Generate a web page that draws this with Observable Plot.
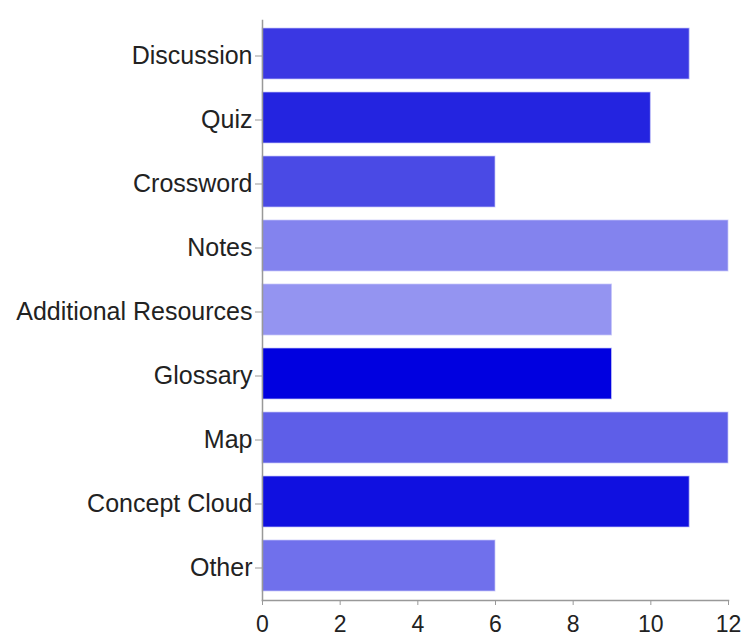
<!DOCTYPE html>
<html>
<head>
<meta charset="utf-8">
<script src="https://cdn.jsdelivr.net/npm/d3@7"></script>
<script src="https://cdn.jsdelivr.net/npm/@observablehq/plot@0.6"></script>
<style>
  html, body { margin: 0; padding: 0; background: #fff; }
  #chart svg { display: block; }
</style>
</head>
<body>
<div id="chart"></div>
<script>
const categories = ["Discussion", "Quiz", "Crossword", "Notes", "Additional Resources", "Glossary", "Map", "Concept Cloud", "Other"];
const counts = [11, 10, 6, 12, 9, 9, 12, 11, 6];
const colors = ["#3a37e3", "#2424e0", "#4a4ae5", "#8383ee", "#9494f1", "#0000e0", "#5e5ee8", "#1010e0", "#7070ec"];
const xTicks = [0, 2, 4, 6, 8, 10, 12];

const data = categories.map((c, i) => ({category: c, count: counts[i], color: colors[i]}));

const chart = Plot.plot({
  width: 744,
  height: 637,
  marginLeft: 262,
  marginRight: 16,
  marginTop: 20,
  marginBottom: 37,
  style: {fontFamily: "'Liberation Sans', Arial, sans-serif", color: "#222", background: "#fff"},
  x: {domain: [0, 12], ticks: xTicks, label: null},
  y: {domain: categories, paddingInner: 0.2, paddingOuter: 0.1, label: null},
  marks: [
    Plot.barX(data, {y: "category", x: "count", fill: "color", stroke: "#c8c8fa", strokeWidth: 1, strokeOpacity: 0.7}),
    Plot.frame({anchor: "left", stroke: "#999", strokeWidth: 1.5}),
    Plot.frame({anchor: "bottom", stroke: "#999", strokeWidth: 1.5}),
    Plot.axisX({ticks: xTicks, tickSize: 5, tickPadding: 10, stroke: "#999", fontSize: 23, fill: "#222", label: null}),
    Plot.axisY({tickSize: 7, tickPadding: 3, stroke: "#999", fontSize: 25, fill: "#222", dy: 2, label: null})
  ]
});
document.getElementById("chart").appendChild(chart);
</script>
</body>
</html>
